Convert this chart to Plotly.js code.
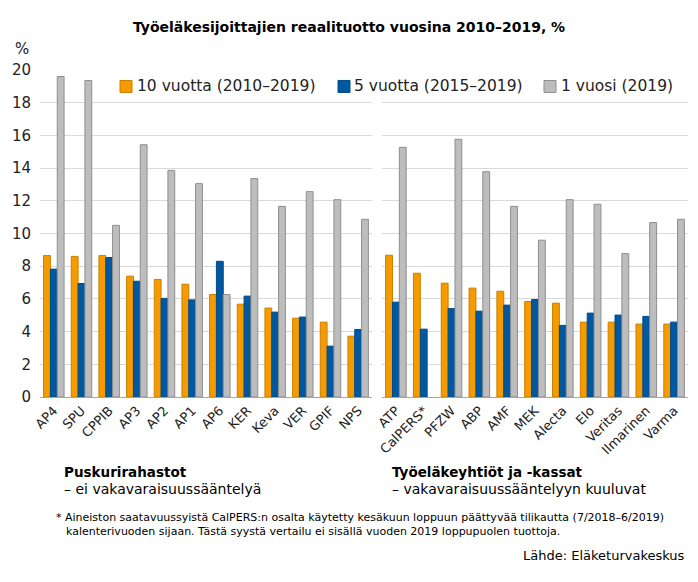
<!DOCTYPE html>
<html>
<head>
<meta charset="utf-8">
<script src="https://cdn.plot.ly/plotly-3.0.1.min.js"></script>
<style>html,body{margin:0;padding:0;background:#fff;}#chart{width:698px;height:582px;}</style>
</head>
<body>
<div id="chart"></div>
<script>
// ---- Data ----
const leftCategories = ["AP4","SPU","CPPIB","AP3","AP2","AP1","AP6","KER","Keva","VER","GPIF","NPS"];
const left10y = [8.65, 8.6, 8.65, 7.39, 7.19, 6.9, 6.27, 5.68, 5.44, 4.82, 4.58, 3.72];
const left5y  = [7.82, 6.94, 8.53, 7.08, 6.03, 5.94, 8.3, 6.17, 5.19, 4.89, 3.11, 4.13];
const left1y  = [19.6, 19.36, 10.5, 15.43, 13.86, 13.05, 6.27, 13.36, 11.66, 12.56, 12.07, 10.87];

const rightCategories = ["ATP","CalPERS*","PFZW","ABP","AMF","MEK","Alecta","Elo","Veritas","Ilmarinen","Varma"];
const right10y = [8.67, 7.57, 6.96, 6.66, 6.47, 5.84, 5.74, 4.58, 4.58, 4.46, 4.46];
const right5y  = [5.8, 4.15, 5.41, 5.25, 5.62, 5.96, 4.38, 5.13, 5.01, 4.93, 4.58];
const right1y  = [15.27, null, 15.76, 13.78, 11.66, 9.59, 12.07, 11.79, 8.77, 10.67, 10.87];

const seriesNames = ["10 vuotta (2010–2019)", "5 vuotta (2015–2019)", "1 vuosi (2019)"];
const yTicks = [0, 2, 4, 6, 8, 10, 12, 14, 16, 18, 20];

// ---- Styles ----
const fills = ["#F59B00", "#0058A0", "#BDBDBD"];
const edges = ["#C98000", "#004C8A", "#8E8E8E"];
const FONT = "DejaVu Sans, Verdana, sans-serif";

function bar(x, y, i, xa) {
  return {
    type: "bar", x: x, y: y, name: seriesNames[i], xaxis: xa, yaxis: "y",
    marker: {color: fills[i], line: {color: edges[i], width: 1}},
    showlegend: false, hoverinfo: "x+y"
  };
}

const data = [
  bar(leftCategories, left10y, 0, "x"),
  bar(leftCategories, left5y, 1, "x"),
  bar(leftCategories, left1y, 2, "x"),
  bar(rightCategories, right10y, 0, "x2"),
  bar(rightCategories, right5y, 1, "x2"),
  bar(rightCategories, right1y, 2, "x2")
];

// pixel helpers for layout text placement
const L = 40, T = 69.5, W = 648, H = 327.5;
const px = v => (v - L) / W;
const py = v => (T + H - v) / H;

const xCommon = {
  type: "category", showgrid: false, zeroline: false,
  showline: true, linecolor: "#A6A6A6", linewidth: 1,
  ticks: "", tickangle: -45,
  tickfont: {family: FONT, size: 13, color: "#222"},
  anchor: "y", fixedrange: true
};

const legendItems = [
  {sq: 120, tx: 135},
  {sq: 338, tx: 352},
  {sq: 544, tx: 559}
];

const shapes = legendItems.map((it, i) => ({
  type: "rect", xref: "paper", yref: "paper",
  x0: px(it.sq), x1: px(it.sq + 12), y0: py(92), y1: py(80),
  fillcolor: fills[i], line: {color: edges[i], width: 1}
}));

const annotations = legendItems.map((it, i) => ({
  xref: "paper", yref: "paper", x: px(it.tx), y: py(86),
  xanchor: "left", yanchor: "middle", showarrow: false,
  text: seriesNames[i], font: {family: FONT, size: 15.5, color: "#222"}
}));

annotations.push(
  {xref: "paper", yref: "paper", x: px(13), y: py(48), xanchor: "left", yanchor: "middle",
   showarrow: false, text: "%", font: {family: FONT, size: 15, color: "#222"}},
  {xref: "paper", yref: "paper", x: px(62), y: py(472), xanchor: "left", yanchor: "middle",
   showarrow: false, text: "<b>Puskurirahastot</b>", font: {family: FONT, size: 13.5, color: "#000"}},
  {xref: "paper", yref: "paper", x: px(62), y: py(489), xanchor: "left", yanchor: "middle",
   showarrow: false, text: "– ei vakavaraisuussääntelyä", font: {family: FONT, size: 14, color: "#000"}},
  {xref: "paper", yref: "paper", x: px(390), y: py(472), xanchor: "left", yanchor: "middle",
   showarrow: false, text: "<b>Työeläkeyhtiöt ja -kassat</b>", font: {family: FONT, size: 13.5, color: "#000"}},
  {xref: "paper", yref: "paper", x: px(390), y: py(489), xanchor: "left", yanchor: "middle",
   showarrow: false, text: "– vakavaraisuussääntelyyn kuuluvat", font: {family: FONT, size: 14, color: "#000"}},
  {xref: "paper", yref: "paper", x: px(54), y: py(518), xanchor: "left", yanchor: "middle",
   showarrow: false, text: "* Aineiston saatavuussyistä CalPERS:n osalta käytetty kesäkuun loppuun päättyvää tilikautta (7/2018–6/2019)",
   font: {family: FONT, size: 11, color: "#000"}},
  {xref: "paper", yref: "paper", x: px(64), y: py(532), xanchor: "left", yanchor: "middle",
   showarrow: false, text: "kalenterivuoden sijaan. Tästä syystä vertailu ei sisällä vuoden 2019 loppupuolen tuottoja.",
   font: {family: FONT, size: 11, color: "#000"}},
  {xref: "paper", yref: "paper", x: px(687), y: py(556), xanchor: "right", yanchor: "middle",
   showarrow: false, text: "Lähde: Eläketurvakeskus", font: {family: FONT, size: 13, color: "#000"}}
);

const layout = {
  width: 698, height: 582,
  margin: {l: L, r: 698 - L - W, t: T, b: 582 - T - H, pad: 0},
  paper_bgcolor: "#fff", plot_bgcolor: "#fff",
  title: {text: "<b>Työeläkesijoittajien reaalituotto vuosina 2010–2019, %</b>",
          font: {family: FONT, size: 14, color: "#000"},
          x: 0.5, xanchor: "center", xref: "container", y: 1 - 27 / 582, yanchor: "middle"},
  barmode: "group", bargap: 0.26, bargroupgap: 0,
  showlegend: false,
  xaxis: Object.assign({}, xCommon, {domain: [0, px(372)]}),
  xaxis2: Object.assign({}, xCommon, {domain: [px(382), 1]}),
  yaxis: {
    range: [0, 20], tickvals: yTicks, ticktext: yTicks.map(String),
    showgrid: true, gridcolor: "#D9D9D9", gridwidth: 1,
    zeroline: false, showline: false, ticks: "",
    ticklabelstandoff: 8,
    tickfont: {family: FONT, size: 15, color: "#222"},
    fixedrange: true
  },
  shapes: shapes,
  annotations: annotations
};

Plotly.newPlot("chart", data, layout, {displayModeBar: false, staticPlot: true});
</script>
</body>
</html>
